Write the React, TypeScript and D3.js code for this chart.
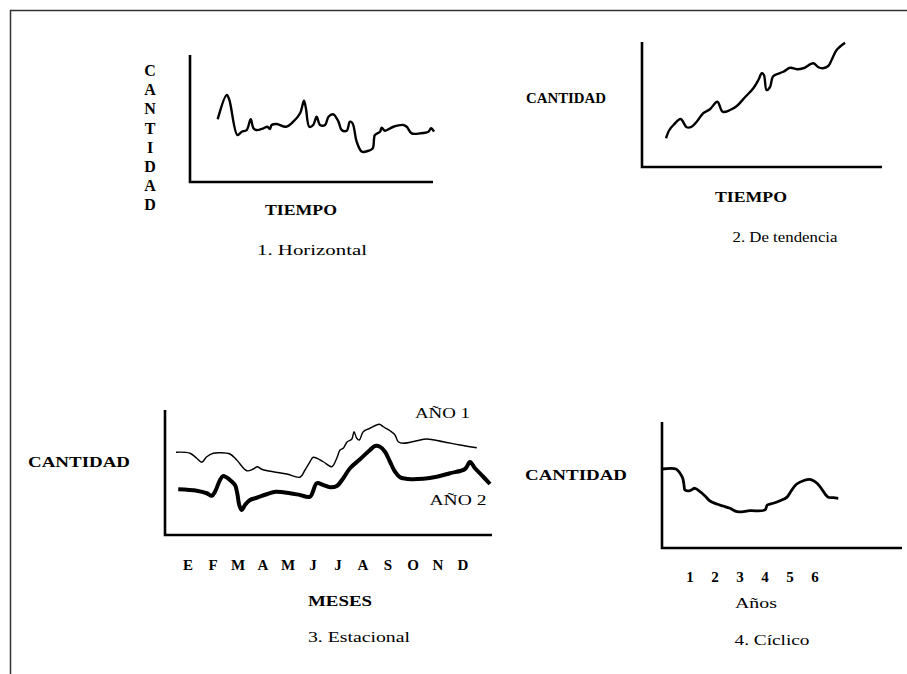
import React from "react";
import * as d3 from "d3";

// ---------- DATA ----------
// 1. Horizontal: [time, quantity]
const horizontalSeries: [number, number][] = [
  [11.4, 49.4], [15.1, 68.5], [16.2, 64.6], [19.5, 37.0], [21.3, 39.6], [23.3, 40.9],
  [25.0, 49.4], [26.1, 42.3], [27.4, 40.9], [30.2, 42.3], [31.8, 43.5], [32.9, 41.7],
  [33.6, 44.9], [35.7, 45.7], [39.5, 43.5], [42.5, 47.5], [45.3, 54.1], [46.9, 64.0],
  [47.7, 58.0], [49.1, 43.5], [50.7, 44.9], [52.1, 51.4], [53.5, 44.9], [55.6, 44.9],
  [57.0, 51.4], [59.0, 53.3], [61.1, 47.5], [62.4, 40.9], [64.5, 40.4], [65.8, 47.5],
  [66.9, 46.2], [68.6, 31.7], [70.7, 23.9], [73.4, 24.6], [75.2, 26.5], [76.1, 37.0],
  [78.2, 39.6], [78.9, 42.8], [80.2, 40.4], [83.7, 43.5], [87.8, 44.9], [89.2, 43.5],
  [91.2, 38.3], [94.7, 38.3], [98.1, 39.6], [99.2, 42.3], [100.4, 39.6],
];

// 2. De tendencia: [time, quantity]
const trendSeries: [number, number][] = [
  [10.0, 23.0], [11.4, 29.6], [13.1, 33.6], [16.1, 38.4], [18.6, 31.8], [20.7, 32.2],
  [22.8, 36.2], [25.5, 43.0], [28.3, 46.2], [31.4, 52.2], [33.6, 44.2], [36.7, 45.6],
  [39.5, 48.8], [42.9, 55.8], [46.4, 63.0], [48.5, 69.6], [49.9, 75.0], [50.8, 73.6],
  [51.9, 61.6], [53.3, 63.8], [54.5, 72.2], [56.1, 74.2], [58.9, 76.2], [61.7, 79.4],
  [64.5, 78.2], [67.2, 79.0], [71.4, 83.0], [73.5, 79.8], [75.3, 79.0], [77.6, 80.8],
  [79.0, 85.6], [81.1, 93.6], [84.6, 99.4],
];

// 3. Estacional: [month index, quantity]
const months = ["E", "F", "M", "A", "M", "J", "J", "A", "S", "O", "N", "D"];
const year1Series: [number, number][] = [
  [-0.48, 66.2], [0.08, 65.4], [0.35, 61.4], [0.55, 58.2], [0.75, 62.6], [1.01, 65.4],
  [1.28, 65.8], [1.68, 64.8], [1.95, 60.0], [2.35, 51.4], [2.61, 52.8], [2.77, 54.6],
  [2.95, 52.6], [3.41, 50.6], [3.95, 48.8], [4.48, 46.2], [4.68, 52.0], [4.88, 58.6],
  [5.01, 62.2], [5.41, 58.6], [5.75, 54.6], [5.95, 61.4], [6.08, 68.0], [6.21, 69.4],
  [6.37, 74.6], [6.55, 76.6], [6.64, 82.6], [6.75, 77.4], [6.85, 76.0], [7.01, 82.6],
  [7.28, 85.4], [7.65, 88.6], [7.81, 86.6], [8.08, 83.4], [8.28, 80.0], [8.41, 74.6],
  [8.61, 73.4], [9.15, 75.4], [9.55, 76.8], [10.21, 74.6], [10.88, 72.0], [11.55, 69.8],
];
const year2Series: [number, number][] = [
  [-0.39, 36.6], [0.35, 35.4], [0.75, 33.4], [0.95, 31.4], [1.08, 34.6], [1.28, 44.0],
  [1.41, 47.2], [1.68, 44.0], [1.88, 40.0], [1.97, 33.4], [2.05, 24.0], [2.15, 20.0],
  [2.28, 24.0], [2.48, 28.0], [2.75, 29.8], [3.15, 32.6], [3.51, 34.6], [4.08, 33.4],
  [4.48, 32.0], [4.88, 30.6], [5.15, 41.4], [5.41, 40.0], [5.68, 38.2], [5.95, 39.2],
  [6.21, 45.4], [6.48, 53.4], [6.88, 60.6], [7.28, 68.0], [7.48, 71.2], [7.68, 70.6],
  [7.88, 66.6], [8.08, 58.6], [8.28, 50.6], [8.48, 46.2], [8.81, 44.8], [9.41, 45.0],
  [9.95, 46.6], [10.48, 49.4], [11.08, 52.8], [11.28, 58.4], [11.48, 53.4], [11.81, 46.6],
  [12.08, 40.8],
];

// 4. Cíclico: [year, quantity]
const yearTicks = ["1", "2", "3", "4", "5", "6"];
const cyclicSeries: [number, number][] = [
  [-0.13, 62.7], [0.44, 62.7], [0.6, 59.3], [0.71, 55.3], [0.76, 50.0], [0.8, 46.0],
  [1.0, 45.5], [1.2, 47.4], [1.4, 44.7], [1.6, 41.3], [1.8, 37.3], [2.07, 34.9],
  [2.33, 33.3], [2.6, 31.5], [2.89, 28.8], [3.4, 29.6], [4.0, 30.2], [4.09, 34.1],
  [4.33, 35.5], [4.6, 37.5], [4.87, 40.2], [5.07, 46.0], [5.27, 50.8], [5.53, 53.4],
  [5.8, 54.5], [6.0, 52.6], [6.2, 48.7], [6.4, 42.9], [6.53, 40.2], [6.73, 39.9],
  [6.93, 39.4],
];

const verticalLabel = "CANTIDAD".split("");

// ---------- SCALES ----------
const x1 = d3.scaleLinear().domain([0, 100]).range([190, 433]);
const y1 = d3.scaleLinear().domain([0, 100]).range([182, 55]);
const x2 = d3.scaleLinear().domain([0, 100]).range([642, 882]);
const y2 = d3.scaleLinear().domain([0, 100]).range([167, 42]);
const x3 = d3.scaleLinear().domain([-0.92, 12.16]).range([165, 492]);
const y3 = d3.scaleLinear().domain([0, 100]).range([535, 410]);
const x4 = d3.scaleLinear().domain([-0.12, 9.48]).range([662, 902]);
const y4 = d3.scaleLinear().domain([0, 100]).range([548, 422]);

const mkLine = (x: d3.ScaleLinear<number, number>, y: d3.ScaleLinear<number, number>) =>
  d3.line<[number, number]>().x((d) => x(d[0])).y((d) => y(d[1])).curve(d3.curveCatmullRom.alpha(0.5));

const FONT = "'Liberation Serif', 'DejaVu Serif', serif";

function Axes({ x, y }: { x: d3.ScaleLinear<number, number>; y: d3.ScaleLinear<number, number> }) {
  const [x0, x1e] = x.range();
  const [yb, yt] = y.range();
  return (
    <path
      d={`M${x0},${yt}V${yb}H${x1e}`}
      fill="none"
      stroke="#000"
      strokeWidth={2.6}
      strokeLinejoin="miter"
    />
  );
}

function Label(props: {
  x: number; y: number; text: string; size: number; width?: number; bold?: boolean;
}) {
  const { x, y, text, size, width, bold = true } = props;
  return (
    <text
      x={x}
      y={y}
      textAnchor="middle"
      dominantBaseline="central"
      fontFamily={FONT}
      fontSize={size}
      fontWeight={bold ? "bold" : "normal"}
      fill="#000"
      {...(width ? { textLength: width, lengthAdjust: "spacingAndGlyphs" } : {})}
    >
      {text}
    </text>
  );
}

export default function App() {
  return (
    <svg
      width={907}
      height={674}
      style={{ position: "absolute", left: 0, top: 0, background: "#fff" }}
    >
      <rect x={0} y={0} width={907} height={674} fill="#fff" />
      {/* frame */}
      <path d="M10.5,674V10.5H907" fill="none" stroke="#333" strokeWidth={1.5} />

      {/* Panel 1 */}
      <Axes x={x1} y={y1} />
      <path d={mkLine(x1, y1)(horizontalSeries) || ""} fill="none" stroke="#000" strokeWidth={2.4} strokeLinejoin="round" />
      {verticalLabel.map((c, i) => (
        <Label key={i} x={150} y={70.5 + i * 19.2} text={c} size={16} />
      ))}
      <Label x={301} y={210} text="TIEMPO" size={15} width={72} />
      <Label x={312} y={250} text="1. Horizontal" size={15} width={110} bold={false} />

      {/* Panel 2 */}
      <Axes x={x2} y={y2} />
      <path d={mkLine(x2, y2)(trendSeries) || ""} fill="none" stroke="#000" strokeWidth={2.4} strokeLinejoin="round" />
      <Label x={566} y={98} text="CANTIDAD" size={15} width={80} />
      <Label x={751} y={197} text="TIEMPO" size={15} width={72} />
      <Label x={785} y={237} text="2. De tendencia" size={15} width={105} bold={false} />

      {/* Panel 3 */}
      <Axes x={x3} y={y3} />
      <path d={mkLine(x3, y3)(year1Series) || ""} fill="none" stroke="#000" strokeWidth={1.4} strokeLinejoin="round" />
      <path d={mkLine(x3, y3)(year2Series) || ""} fill="none" stroke="#000" strokeWidth={4} strokeLinejoin="round" />
      <Label x={79} y={462} text="CANTIDAD" size={15} width={102} />
      {months.map((m, i) => (
        <Label key={i} x={x3(i)} y={565} text={m} size={15} />
      ))}
      <Label x={340} y={601} text="MESES" size={15} width={64} />
      <Label x={359} y={637} text="3. Estacional" size={15} width={102} bold={false} />
      <Label x={442.5} y={413} text="AÑO 1" size={15} width={55} bold={false} />
      <Label x={458} y={500} text="AÑO 2" size={15} width={57} bold={false} />

      {/* Panel 4 */}
      <Axes x={x4} y={y4} />
      <path d={mkLine(x4, y4)(cyclicSeries) || ""} fill="none" stroke="#000" strokeWidth={2.8} strokeLinejoin="round" />
      <Label x={576} y={475} text="CANTIDAD" size={15} width={102} />
      {yearTicks.map((t, i) => (
        <Label key={i} x={x4(i + 1)} y={577} text={t} size={15} />
      ))}
      <Label x={756} y={603} text="Años" size={15} width={42} bold={false} />
      <Label x={772} y={640} text="4. Cíclico" size={15} width={75} bold={false} />
    </svg>
  );
}
